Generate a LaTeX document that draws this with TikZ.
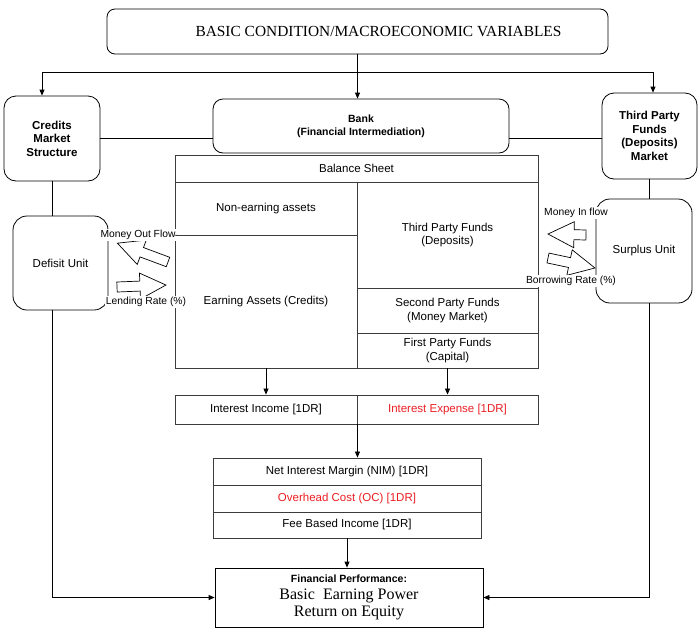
\documentclass[tikz,border=0pt]{standalone}
\usepackage{fontspec}
\setmainfont{Liberation Serif}
\setsansfont{Liberation Sans}
\usetikzlibrary{arrows.meta}
\definecolor{txtred}{RGB}{235,30,35}
\definecolor{linegray}{RGB}{60,60,60}
\newcommand{\myblockarrow}[4]{%
  \draw[blk,shift={(#1,#2)},rotate=#3] (0,-5) -- ({#4-26},-5) -- ({#4-26},-13) -- (#4,0) -- ({#4-26},13) -- ({#4-26},5) -- (0,5) -- cycle;}
\tikzset{
  base/.style={draw, line width=0.8pt, inner sep=0pt, align=center, font=\sffamily\fontsize{11.5}{13.5}\selectfont},
  rbox/.style={base, rounded corners=#1},
  rbox/.default=12pt,
  cell/.style={base, draw=linegray, line width=0.9pt},
  lbl/.style={fill=white, inner sep=0.8pt, font=\sffamily\fontsize{10.3}{12}\selectfont},
  arr/.style={-{Triangle[length=6pt,width=5pt]}, line width=0.8pt},
  conn/.style={line width=0.8pt},
  blk/.style={draw, fill=white, line width=0.7pt, line join=miter},
}
\begin{document}
\begin{tikzpicture}[x=1pt,y=-1pt]
\useasboundingbox[fill=white] (0,0) rectangle (700,635);

% top
\node[rbox=8pt, minimum width=501pt, minimum height=45pt, font=\rmfamily\fontsize{15.4}{17}\selectfont] (top) at (357.5,31.5) {\hspace*{42pt}BASIC CONDITION/MACROECONOMIC VARIABLES};

% bank and side markets
\node[rbox=10pt, minimum width=296pt, minimum height=54pt, font=\sffamily\bfseries\fontsize{10.5}{13}\selectfont] (bank) at (361,126) {Bank\\(Financial Intermediation)};
\node[rbox=12pt, minimum width=96pt, minimum height=85pt, font=\sffamily\bfseries\fontsize{11.5}{13.5}\selectfont] (credits) at (52,138.5) {Credits\\Market\\Structure};
\node[rbox=12pt, minimum width=95pt, minimum height=86pt, font=\sffamily\bfseries\fontsize{11.5}{13.5}\selectfont] (third) at (649.5,136) {Third Party\\Funds\\(Deposits)\\Market};

% units
\node[rbox=14pt, minimum width=95pt, minimum height=94pt] (defisit) at (60.5,263) {Defisit Unit};
\node[rbox=14pt, minimum width=96pt, minimum height=104pt] (surplus) at (644,251) {Surplus Unit};

% balance sheet
\node[cell, minimum width=363pt, minimum height=27pt] (bsh) at (356.5,168.5) {Balance Sheet};
\node[cell, minimum width=182pt, minimum height=53pt] (nea) at (266,208.5) {Non-earning assets};
\node[cell, minimum width=182pt, minimum height=133pt] (ea) at (266,301.5) {Earning Assets (Credits)};
\node[cell, minimum width=181pt, minimum height=106pt] (tpf) at (447.5,235) {Third Party Funds\\(Deposits)};
\node[cell, minimum width=181pt, minimum height=45pt] (spf) at (447.5,310.5) {Second Party Funds\\(Money Market)};
\node[cell, minimum width=181pt, minimum height=35pt] (fpf) at (447.5,350.5) {First Party Funds\\(Capital)};

% interest
\node[cell, minimum width=182pt, minimum height=29pt] (ii) at (266,409.5) {Interest Income [1DR]};
\node[cell, minimum width=181pt, minimum height=29pt, text=txtred] (ie) at (447.5,409.5) {Interest Expense [1DR]};

% NIM block
\node[cell, minimum width=268pt, minimum height=27pt] (nim) at (347,471.5) {Net Interest Margin (NIM) [1DR]};
\node[cell, minimum width=268pt, minimum height=27pt, text=txtred] (oc) at (347,498.5) {Overhead Cost (OC) [1DR]};
\node[cell, minimum width=268pt, minimum height=26pt] (fbi) at (347,525) {Fee Based Income [1DR]};

% financial performance
\node[base, minimum width=268pt, minimum height=59pt, font=\rmfamily\fontsize{16}{17}\selectfont] (fp) at (349,597.5) {%
  {\sffamily\bfseries\fontsize{10.5}{12}\selectfont Financial Performance:}\\
  Basic\ \ Earning Power\\
  Return on Equity};

% connectors
\coordinate (hlL) at (42,72);
\coordinate (hlR) at (653,72);
\draw[arr] (top.south) -- (top.south |- bank.north);
\draw[arr] (hlR) -- (hlL) -- (hlL |- credits.north);
\draw[arr] (hlR) -- (hlR |- third.north);
\draw[conn] (credits.east) -- (credits.east -| bank.west);
\draw[conn] (bank.east |- credits.east) -- (third.west |- credits.east);
\draw[conn] (credits.south) -- (credits.south |- defisit.north);
\draw[conn] (third.south) -- (third.south |- surplus.north);
\draw[arr] (credits.south |- defisit.south) -- (credits.south |- fp.west) -- (fp.west);
\draw[arr] (third.south |- surplus.south) -- (third.south |- fp.east) -- (fp.east);
\draw[arr] (ea.south) -- (ea.south |- ii.north);
\draw[arr] (fpf.south) -- (fpf.south |- ie.north);
\draw[arr] (ii.south east) -- (ii.south east |- nim.north);
\draw[arr] (fbi.south) -- (fbi.south |- fp.north);

% block arrows
\myblockarrow{168}{262}{159.6}{54}
\myblockarrow{117}{287}{2.3}{49}
\myblockarrow{586}{235}{178.5}{38}
\myblockarrow{548}{258}{-12}{48}

% flow labels
\node[lbl] (mof) at (138,235) {Money Out Flow};
\node[lbl] (lr) at (146,302) {Lending Rate (\%)};
\node[lbl] (mif) at (576,213) {Money In flow};
\node[lbl] (br) at (571,281) {Borrowing Rate (\%)};
\draw[conn, draw=linegray] (mof.east) -- (nea.south west);
\end{tikzpicture}
\end{document}
